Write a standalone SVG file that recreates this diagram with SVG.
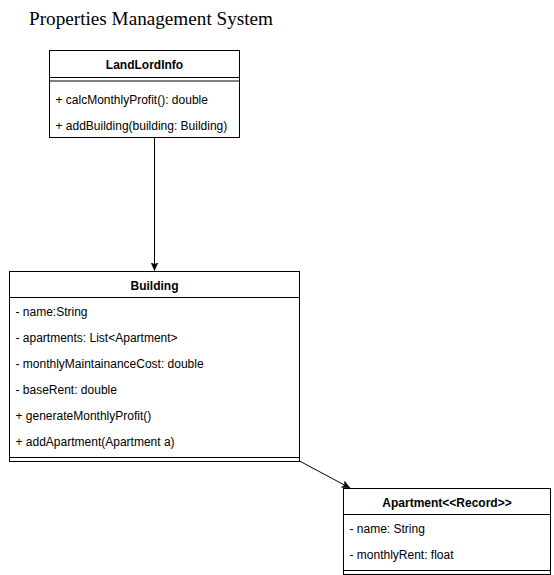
<svg xmlns="http://www.w3.org/2000/svg" width="554" height="575" viewBox="0 0 554 575">
<style>
.box{fill:#fff;stroke:#000;stroke-width:1}
.sep{stroke:#000;stroke-width:1;fill:none}
.t{font-family:"Liberation Sans",Arial,sans-serif;font-size:12px;fill:#000}
.h{font-family:"Liberation Sans",Arial,sans-serif;font-size:12px;font-weight:bold;fill:#000;text-anchor:middle}
.title{font-family:"Liberation Serif","Times New Roman",serif;font-size:19px;fill:#000}
.edge{stroke:#000;stroke-width:1;fill:none}
</style>
<defs>
<marker id="arr" markerUnits="userSpaceOnUse" markerWidth="10" markerHeight="10" viewBox="0 0 10 10" refX="8" refY="5" orient="auto">
<path d="M0,1.5 L8,5 L0,8.5 L2,5 Z" fill="#000" stroke="#000" stroke-width="0.5"/>
</marker>
</defs>
<rect width="554" height="575" fill="#fff"/>
<text class="title" x="29" y="25" textLength="244" lengthAdjust="spacingAndGlyphs">Properties Management System</text>
<g id="edges">
<line class="edge" x1="154.5" y1="137.5" x2="154.5" y2="270.5" marker-end="url(#arr)"/>
<line class="edge" x1="299.5" y1="461" x2="350" y2="488" marker-end="url(#arr)"/>
</g>
<g id="LandLordInfo">
<rect class="box" x="49.5" y="50.5" width="190" height="87"/>
<line class="sep" x1="49.5" y1="77.5" x2="239.5" y2="77.5"/>
<line class="sep" x1="49.5" y1="81" x2="239.5" y2="81"/>
<text class="h" x="144.5" y="69">LandLordInfo</text>
<text class="t" x="55.5" y="103.5">+ calcMonthlyProfit(): double</text>
<text class="t" x="55.5" y="129.5">+ addBuilding(building: Building)</text>
</g>
<g id="Building">
<rect class="box" x="9.5" y="271.5" width="290" height="190"/>
<line class="sep" x1="9.5" y1="297.5" x2="299.5" y2="297.5"/>
<line class="sep" x1="9.5" y1="457.5" x2="299.5" y2="457.5"/>
<text class="h" x="154.5" y="290">Building</text>
<text class="t" x="15.5" y="316">- name:String</text>
<text class="t" x="15.5" y="342">- apartments: List&lt;Apartment&gt;</text>
<text class="t" x="15.5" y="368">- monthlyMaintainanceCost: double</text>
<text class="t" x="15.5" y="394">- baseRent: double</text>
<text class="t" x="15.5" y="420">+ generateMonthlyProfit()</text>
<text class="t" x="15.5" y="446">+ addApartment(Apartment a)</text>
</g>
<g id="Apartment">
<rect class="box" x="343.5" y="488.5" width="207" height="86"/>
<line class="sep" x1="343.5" y1="514.5" x2="550.5" y2="514.5"/>
<line class="sep" x1="343.5" y1="570.5" x2="550.5" y2="570.5"/>
<text class="h" x="447" y="507">Apartment&lt;&lt;Record&gt;&gt;</text>
<text class="t" x="349.5" y="533">- name: String</text>
<text class="t" x="349.5" y="559">- monthlyRent: float</text>
</g>
</svg>
